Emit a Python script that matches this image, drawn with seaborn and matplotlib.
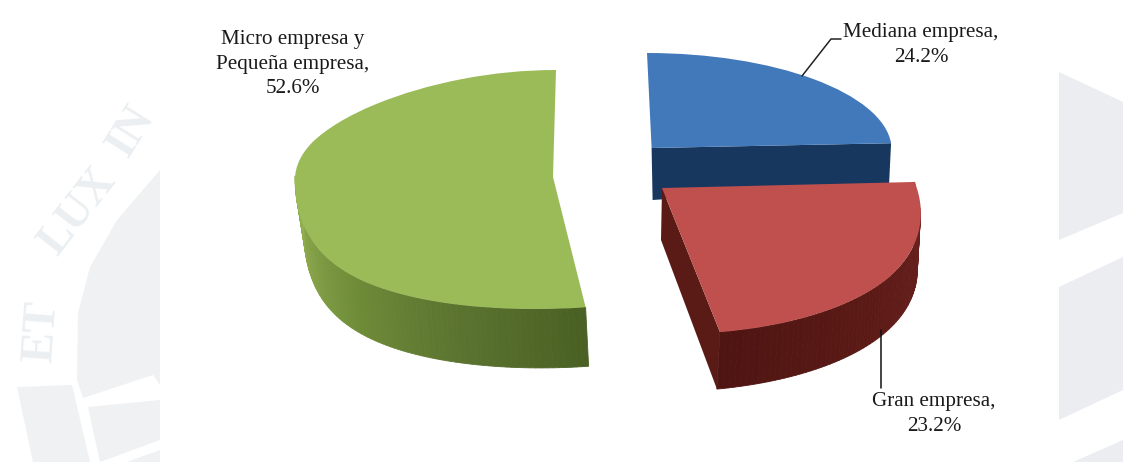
import numpy as np
import matplotlib
matplotlib.use("Agg")
import matplotlib.pyplot as plt
import seaborn as sns
from matplotlib.colors import LinearSegmentedColormap
from matplotlib.patches import Polygon, Rectangle
from matplotlib.transforms import Transform

# Company-size shares, clockwise from twelve o'clock
categories = ["Mediana empresa", "Gran empresa", "Micro empresa y\nPequeña empresa"]
shares = [24.2, 23.2, 52.6]
top_colors = ["#4279bb", "#c0504d", "#9bbb59"]

W, H = 1123, 462
sns.set_theme(style="white")
plt.rcParams["font.family"] = ["Liberation Serif", "DejaVu Serif"]


class TiltedDisc(Transform):
    """Maps the unit pie disc to a receding slab on the page, in pixel units.

    Each of the curve terms takes a (back, front) pair, so the near half of
    the disc can flare out more than the far half.
    """
    input_dims = output_dims = 2
    is_separable = False

    def __init__(self, apex, rx, ry, flare=(0, 0), bulge=(0, 0), lean=(0, 0), sweep=(0, 0)):
        super().__init__()
        self.apex, self.rx, self.ry = apex, rx, ry
        self.flare, self.bulge, self.lean, self.sweep = flare, bulge, lean, sweep

    def transform_non_affine(self, values):
        values = np.asarray(values, float)
        x, y = values[:, 0], values[:, 1]
        pick = lambda pair: np.where(y >= 0, pair[0], pair[1])
        width = 1 - pick(self.flare) * y + pick(self.bulge) * y ** 2
        shift = pick(self.lean) * y + pick(self.sweep) * y * np.abs(y)
        px = self.apex[0] + self.rx * x * width + shift
        py = self.apex[1] - pick(self.ry) * y
        return np.column_stack([px, py])


tilts = [
    TiltedDisc((651.6, 148), 240, (95, 95), lean=(-4.6, 0)),
    TiltedDisc((662, 188), 253, (120, 146), flare=(0, 0.17), lean=(0, -10)),
    TiltedDisc((553, 177), 258, (107, 132), bulge=(-0.12, 0.2), sweep=(3, 18)),
]
depths = [(52, 41), (52, 57), (0, 59)]
wall_cmaps = [
    None,
    LinearSegmentedColormap.from_list("redwall", ["#4f1512", "#5e1b17", "#6b2320"]),
    LinearSegmentedColormap.from_list(
        "greenwall", ["#4a6024", "#5c7530", "#6f8c38", "#86a349", "#93b053"]),
]
cut_colors = ["#17375e", "#5a1a16", "#4f6228"]

fig = plt.figure(figsize=(W / 100, H / 100), dpi=100)
ax = fig.add_axes([0, 0, 1, 1])

# Pale crest in the page margins, behind a white panel
crest_left = [
    [(160, 170), (117, 220), (90, 267), (78, 313), (77, 380), (83, 398), (153, 375), (160, 385)],
    [(88, 407), (160, 400), (160, 440), (100, 462)],
    [(17, 387), (72, 385), (90, 462), (33, 462)],
    [(127, 462), (160, 450), (160, 462)],
]
crest_right = [
    [(1059, 72), (1123, 102), (1123, 213), (1059, 240)],
    [(1059, 287), (1123, 257), (1123, 390), (1059, 420)],
    [(1073, 462), (1123, 440), (1123, 462)],
]
for pts in crest_left:
    ax.add_patch(Polygon(pts, closed=True, fc="#eff1f3", ec="none", zorder=1))
for pts in crest_right:
    ax.add_patch(Polygon(pts, closed=True, fc="#ecedf0", ec="none", zorder=1))
for word, xy, rot in [("ET", (42, 332), 86), ("LUX", (78, 212), 52), ("IN", (132, 132), 58)]:
    ax.text(*xy, word, fontsize=33, fontweight="bold", color="#ebeff2", rotation=rot,
            ha="center", va="center", rotation_mode="anchor", zorder=1)
ax.add_patch(Rectangle((160, 0), 899, H, fc="white", ec="none", zorder=2))

# Pie faces come straight from the shares; each slice then gets its own tilt
wedges, _ = ax.pie(shares, startangle=90, counterclock=False, colors=top_colors,
                   wedgeprops={"linewidth": 0})
ax.set_aspect("auto")
ax.set_xlim(0, W)
ax.set_ylim(H, 0)
ax.axis("off")

face_order = [10, 14, 8]
for wedge, tilt, z in zip(wedges, tilts, face_order):
    wedge.set_transform(tilt + ax.transData)
    wedge.set_zorder(z)


def rim(tilt, a0, a1, n):
    t = np.radians(np.linspace(a0, a1, n))
    return tilt.transform_non_affine(np.column_stack([np.cos(t), np.sin(t)]))


# Blue slice: only the straight cut towards the viewer is visible
blue, red, green = wedges
apex = np.array(tilts[0].apex)
edge = rim(tilts[0], blue.theta1, blue.theta1, 1)[0]
ax.add_patch(Polygon([apex, edge, edge + (-2, depths[0][1]), apex + (1, depths[0][0])],
                     closed=True, fc=cut_colors[0], ec="none", zorder=9))

# Red slice: outer wall plus the cut face on its left
n = 70
pts = rim(tilts[1], red.theta1, red.theta2, n + 1)
for i in range(n):
    drop = np.array([-3, 52 + (depths[1][1] - 52) * (1 - i / n)])
    quad = [pts[i], pts[i + 1], pts[i + 1] + drop, pts[i] + drop]
    ax.add_patch(Polygon(quad, closed=True, fc=wall_cmaps[1](i / n), ec=wall_cmaps[1](i / n),
                         lw=0.6, zorder=12))
apex = np.array(tilts[1].apex)
front = rim(tilts[1], red.theta1, red.theta1, 1)[0]
ax.add_patch(Polygon([apex, front, front + (-3, depths[1][1]), apex + (-1, 52)],
                     closed=True, fc=cut_colors[1], ec="none", zorder=13))

# Green slice: outer wall from the front corner round to the left extreme
n = 90
a_front, a_left = green.theta2, green.theta2 - 100
pts = rim(tilts[2], a_front, a_left, n + 1)
for i in range(n):
    f = i / n
    drop = np.array([3 + 6 * f, depths[2][1] - 10 * f ** 2])
    quad = [pts[i], pts[i + 1], pts[i + 1] + drop, pts[i] + drop]
    ax.add_patch(Polygon(quad, closed=True, fc=wall_cmaps[2](f), ec=wall_cmaps[2](f),
                         lw=0.6, zorder=7))

# Labels with their value, and the two leader lines
labels = [
    (f"{categories[0]},\n{shares[0]}%", (921, 45)),
    (f"{categories[1]},\n{shares[1]}%", (934, 414)),
    (f"{categories[2]},\n{shares[2]}%", (293, 64)),
]
for text, xy in labels:
    ax.text(*xy, text, ha="center", va="center", fontsize=15.2, linespacing=1.4,
            color="#1a1a1a", zorder=20)
ax.plot([802, 831, 841], [76, 39, 39], color="#222222", lw=1.1, zorder=20)
ax.plot([881, 881], [330, 388], color="#111111", lw=1.1, zorder=20)

fig.savefig("out.png", dpi=100, facecolor="white")
